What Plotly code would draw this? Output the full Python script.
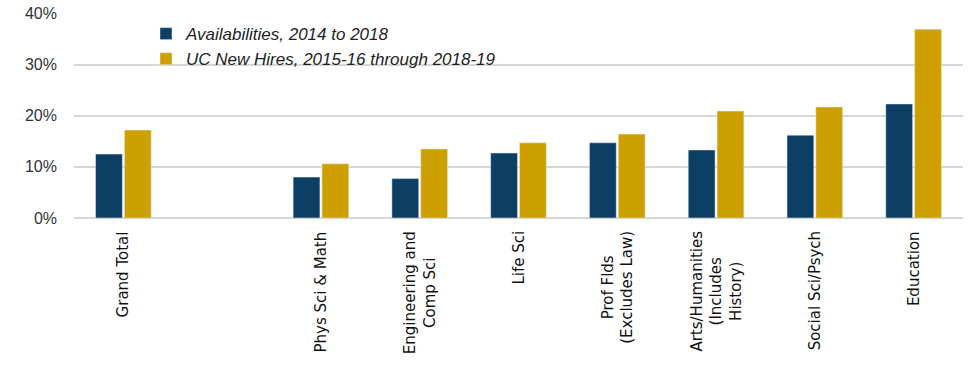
import plotly.graph_objects as go

categories = ["Grand Total", " ", "Phys Sci & Math", "Engineering and<br>Comp Sci", "Life Sci",
              "Prof Flds<br>(Excludes Law)", "Arts/Humanities<br>(Includes<br>History)",
              "Social Sci/Psych", "Education"]
availabilities = [0.125, None, 0.080, 0.077, 0.127, 0.147, 0.133, 0.162, 0.223]
new_hires = [0.172, None, 0.106, 0.135, 0.147, 0.164, 0.209, 0.217, 0.369]
series_names = ["Availabilities, 2014 to 2018", "UC New Hires, 2015-16 through 2018-19"]
tick_vals = [0, 0.1, 0.2, 0.3, 0.4]

fig = go.Figure()
fig.add_trace(go.Bar(x=categories, y=availabilities, name=series_names[0], marker_color="#0C3F63"))
fig.add_trace(go.Bar(x=categories, y=new_hires, name=series_names[1], marker_color="#CDA000"))

for cat in categories:
    if cat.strip():
        fig.add_annotation(x=cat, xref="x", y=0, yref="paper", yanchor="top", xanchor="center",
                           text=cat, textangle=-90, align="center", showarrow=False, yshift=-11,
                           font=dict(family="DejaVu Sans", size=15, color="#111111"))

fig.update_layout(
    width=975, height=366,
    margin=dict(l=74, r=12, t=13, b=148),
    plot_bgcolor="white", paper_bgcolor="white",
    barmode="group", bargap=0.416, bargroupgap=0.07,
    font=dict(family="Liberation Sans", color="#404040"),
    showlegend=True,
    legend=dict(x=0.081, y=0.985, xanchor="left", yanchor="top",
                font=dict(family="Liberation Sans", size=17, color="#222222", style="italic"),
                bgcolor="rgba(0,0,0,0)", itemwidth=30, tracegroupgap=1),
)
fig.update_yaxes(range=[0, 0.4008], tickvals=tick_vals, tickformat=".0%", automargin=False,
                 showgrid=True, gridcolor="#D6D6D6", gridwidth=1.5,
                 zeroline=True, zerolinecolor="#D6D6D6", zerolinewidth=1.5,
                 tickfont=dict(size=16, color="#333333"), ticks="", ticklen=0,
                 ticklabelstandoff=16)
fig.update_xaxes(automargin=False, showticklabels=False, showline=False, ticks="")

fig.write_html("out.html", config={"displayModeBar": False},
               post_script="document.body.style.margin='0';")
